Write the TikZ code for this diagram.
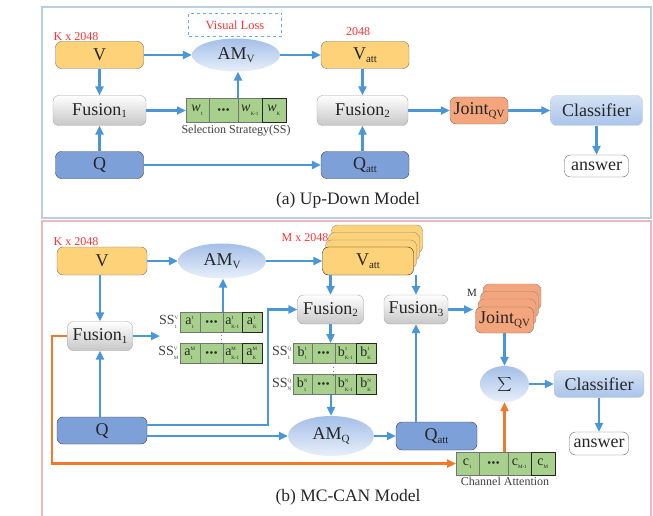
\documentclass[tikz,border=0pt]{standalone}
\usepackage{fontspec}
\setmainfont{Liberation Serif}
\usepackage{tikz}
\usetikzlibrary{arrows.meta,positioning,shapes.geometric}

\definecolor{ylw}{HTML}{FDD279}
\definecolor{qblue}{HTML}{7DA0D8}
\definecolor{arrblue}{HTML}{4B96D6}
\definecolor{jorange}{HTML}{F4A57C}
\definecolor{cgreen}{HTML}{A8D08D}
\definecolor{lossred}{HTML}{FF3333}
\definecolor{ostroke}{HTML}{F07A2A}
\definecolor{topframe}{HTML}{BBCDE2}
\definecolor{botframe}{HTML}{F2B6C0}
\definecolor{amtop}{HTML}{A4BFE8}
\definecolor{ambot}{HTML}{E8EFFA}
\definecolor{clstop}{HTML}{D5E3F5}
\definecolor{clsbot}{HTML}{A9C3EA}

\newcommand{\subtxt}[1]{\raisebox{-0.35ex}{\fontsize{11}{11}\selectfont #1}}
\newcommand{\tinytxt}[1]{\mbox{\fontsize{5}{5}\selectfont #1}}
\newcommand{\cel}[3]{#1$^{\tinytxt{#2}}_{\tinytxt{#3}}$}
\newcommand{\threedots}{{\fontsize{6}{6}\selectfont$\bullet\!\bullet\!\bullet$}}

\begin{document}
\begin{tikzpicture}[
  x=1pt, y=-1pt,
  every node/.style={inner sep=0pt, text=black!85},
  base/.style={rounded corners=6pt, minimum width=88pt, minimum height=27pt, font=\fontsize{18}{20}\selectfont},
  ylwbox/.style={base, draw=black!55, fill=ylw},
  fus/.style={base, draw=black!35, top color=white, bottom color=black!22, minimum height=30pt},
  qbox/.style={base, draw=black!75, fill=qblue},
  amv/.style={ellipse, draw=none, top color=amtop, bottom color=ambot, font=\fontsize{18}{20}\selectfont},
  joint/.style={base, draw=black!55, fill=jorange, minimum width=58pt},
  cls/.style={base, draw=black!20, top color=clstop, bottom color=clsbot, minimum width=92pt, minimum height=30pt},
  ans/.style={base, draw=black!60, fill=white, minimum width=64pt, minimum height=22pt},
  cell/.style={draw=black!55, fill=cgreen, outer sep=0pt, minimum height=20pt, font=\fontsize{14}{14}\selectfont},
  cellk/.style={cell, draw=black!85},
  sslbl/.style={font=\fontsize{14}{14}\selectfont, text=black!75},
  lbl/.style={text=lossred, font=\fontsize{12}{12}\selectfont},
  note/.style={font=\fontsize{12}{12}\selectfont, text=black!75},
  captxt/.style={font=\fontsize{17.5}{18}\selectfont},
  loss/.style={draw=arrblue!80, dashed, thick, text=lossred, minimum width=93pt, minimum height=23pt, font=\fontsize{12.5}{12.5}\selectfont},
  arr/.style={-{Triangle[length=9pt,width=8pt]}, line width=2.3pt, draw=arrblue},
  oarr/.style={arr, draw=ostroke}
]
  \useasboundingbox (0,0) rectangle (653,516);
  \draw[topframe, line width=1.2pt] (42,7) rectangle (651,218);
  \draw[botframe, line width=1.2pt] (42,516) -- (42,221) -- (651,221) -- (651,516);

  % (a) up-down model
  \node[lbl] (kx1) at (76,37) {K x 2048};
  \node[ylwbox] (v1) at (99.5,55) {V};
  \node[amv, minimum width=88pt, minimum height=33pt] (amv1) at (236,55) {AM\subtxt{V}};
  \node[loss] (loss) at (235,25) {Visual Loss};
  \node[lbl] (dim1) at (358,32) {2048};
  \node[ylwbox] (vatt1) at (365,55) {V\subtxt{att}};
  \node[fus, minimum width=93pt] (fus1a) at (99.5,110.5) {Fusion\subtxt{1}};
  \node[cell, minimum width=23pt, minimum height=24pt, anchor=west] (w1) at (186,110.5) {\cel{\textit{w}}{}{1}};
  \node[cell, minimum width=29pt, minimum height=24pt, right=0pt of w1] (w2) {\threedots};
  \node[cell, minimum width=24pt, minimum height=24pt, right=0pt of w2] (w3) {\cel{\textit{w}}{}{K-1}};
  \node[cellk, minimum width=24pt, minimum height=24pt, right=0pt of w3] (w4) {\cel{\textit{w}}{}{K}};
  \node[note] (ss) at (236,131) {Selection Strategy(SS)};
  \node[qbox] (q1) at (99.5,165) {Q};
  \node[qbox] (qatt1) at (365,165) {Q\subtxt{att}};
  \node[fus, minimum width=91pt] (fus2a) at (362.5,110.5) {Fusion\subtxt{2}};
  \node[joint] (joint1) at (479,110.5) {Joint\subtxt{QV}};
  \node[cls] (cls1) at (596.5,110.5) {Classifier};
  \node[ans] (ans1) at (596.5,166) {answer};
  \node[captxt] (capa) at (348,200) {(a) Up-Down Model};

  \draw[arr] (v1) -- (amv1);
  \draw[arr] (amv1) -- (vatt1);
  \draw[arr] (v1) -- (fus1a);
  \draw[arr] (q1) -- (fus1a);
  \draw[arr] (fus1a) -- (w1);
  \draw[arr] (w2.north east) -- (w2.north east |- amv1.south);
  \draw[arr] (q1) -- (qatt1);
  \draw[arr] (fus2a.north |- vatt1.south) -- (fus2a.north);
  \draw[arr] (fus2a.south |- qatt1.north) -- (fus2a.south);
  \draw[arr] (fus2a) -- (joint1);
  \draw[arr] (joint1) -- (cls1);
  \draw[arr] (cls1) -- (ans1);

  % (b) MC-CAN model
  \node[lbl] (kx2) at (76,242) {K x 2048};
  \node[ylwbox, minimum width=90pt, minimum height=28pt] (v2) at (102,261) {V};
  \node[amv, minimum width=88pt, minimum height=35pt] (amv2) at (222,261) {AM\subtxt{V}};
  \node[lbl] (mx2) at (305,238) {M x 2048};
  \node[ylwbox, minimum width=91pt, minimum height=28pt, draw=black!45] (vattc) at (377,239) {};
  \node[ylwbox, minimum width=91pt, minimum height=28pt, draw=black!45] (vattb) at (374,246.5) {};
  \node[ylwbox, minimum width=91pt, minimum height=28pt, draw=black!45] (vatta) at (371,254) {};
  \node[ylwbox, minimum width=91pt, minimum height=28pt, draw=black!85] (vatt2) at (368,261) {V\subtxt{att}};
  \node[fus, minimum width=65pt, minimum height=29pt] (fus1b) at (100,336) {Fusion\subtxt{1}};
  \node[cell, minimum width=20pt, anchor=west] (a11) at (180,322) {\cel{a}{1}{1}};
  \node[cell, minimum width=23pt, right=0pt of a11] (a12) {\threedots};
  \node[cell, minimum width=19pt, right=0pt of a12] (a13) {\cel{a}{1}{K-1}};
  \node[cellk, minimum width=20pt, right=0pt of a13] (a14) {\cel{a}{1}{K}};
  \node[cell, minimum width=20pt, anchor=west] (am1) at (180,353) {\cel{a}{M}{1}};
  \node[cell, minimum width=23pt, right=0pt of am1] (am2) {\threedots};
  \node[cell, minimum width=19pt, right=0pt of am2] (am3) {\cel{a}{M}{K-1}};
  \node[cellk, minimum width=20pt, right=0pt of am3] (am4) {\cel{a}{M}{K}};
  \node[sslbl, left=1pt of a11] (ssv1) {\cel{SS}{V}{1}};
  \node[sslbl, left=1pt of am1] (ssvm) {\cel{SS}{V}{M}};
  \node[font=\fontsize{8}{8}\selectfont] (vda) at (221.5,337.5) {$\vdots$};
  \node[fus, minimum width=66pt, minimum height=29pt] (fus2b) at (330.5,309.5) {Fusion\subtxt{2}};
  \node[fus, minimum width=64pt, minimum height=29pt] (fus3b) at (416,309.5) {Fusion\subtxt{3}};
  \node[joint, minimum height=26pt, draw=black!45] (jointc) at (512,297) {};
  \node[joint, minimum height=26pt, draw=black!45] (jointb) at (509.5,304.5) {};
  \node[joint, minimum height=26pt, draw=black!45] (jointa) at (507,312) {};
  \node[joint, minimum height=26pt] (joint2) at (504.5,320) {Joint\subtxt{QV}};
  \node[font=\fontsize{11}{11}\selectfont] (mlbl) at (472,293) {M};
  \node[cell, minimum width=19pt, anchor=west] (b11) at (293,353) {\cel{b}{1}{1}};
  \node[cell, minimum width=23pt, right=0pt of b11] (b12) {\threedots};
  \node[cell, minimum width=21pt, right=0pt of b12] (b13) {\cel{b}{1}{K-1}};
  \node[cellk, minimum width=20pt, right=0pt of b13] (b14) {\cel{b}{1}{K}};
  \node[cell, minimum width=19pt, anchor=west] (bn1) at (293,384.5) {\cel{b}{N}{1}};
  \node[cell, minimum width=23pt, right=0pt of bn1] (bn2) {\threedots};
  \node[cell, minimum width=21pt, right=0pt of bn2] (bn3) {\cel{b}{N}{K-1}};
  \node[cellk, minimum width=20pt, right=0pt of bn3] (bn4) {\cel{b}{N}{K}};
  \node[sslbl, left=1pt of b11] (ssq1) {\cel{SS}{Q}{1}};
  \node[sslbl, left=1pt of bn1] (ssqn) {\cel{SS}{Q}{N}};
  \node[font=\fontsize{8}{8}\selectfont] (vdb) at (333.5,369) {$\vdots$};
  \node[qbox, minimum width=90pt] (q2) at (102,430.5) {Q};
  \node[amv, minimum width=86pt, minimum height=40pt] (amq) at (331,436) {AM\subtxt{Q}};
  \node[qbox, minimum width=81pt, minimum height=28pt] (qatt2) at (436.5,436) {Q\subtxt{att}};
  \node[amv, minimum width=49pt, minimum height=36pt] (sigma) at (504.5,384) {\fontsize{16}{16}\selectfont$\displaystyle\sum$};
  \node[cls, minimum width=90pt, minimum height=27pt] (cls2) at (599,384) {Classifier};
  \node[ans, minimum width=59pt, minimum height=23pt] (ans2) at (599,443.5) {answer};
  \node[cell, minimum width=23pt, minimum height=23pt, anchor=west] (c1) at (456,463.5) {\cel{c}{}{1}};
  \node[cell, minimum width=29pt, minimum height=23pt, right=0pt of c1] (c2) {\threedots};
  \node[cell, minimum width=23pt, minimum height=23pt, right=0pt of c2] (c3) {\cel{c}{}{M-1}};
  \node[cellk, minimum width=24pt, minimum height=23pt, right=0pt of c3] (c4) {\cel{c}{}{M}};
  \node[note] (chan) at (505,481) {Channel Attention};
  \node[captxt] (capb) at (348,497) {(b) MC-CAN Model};
  \coordinate (ssin) at (160,336);
  \coordinate (qbend) at (268,425);
  \coordinate (jin) at (473,309.5);
  \coordinate (obend) at (52,336);

  \draw[arr] (v2) -- (amv2);
  \draw[arr] (amv2) -- (vatt2);
  \draw[arr] (fus1b.north |- v2.south) -- (fus1b.north);
  \draw[arr] (fus1b.south |- q2.north) -- (fus1b.south);
  \draw[arr] (fus1b) -- (ssin);
  \draw[arr] (a12.north east) -- (a12.north east |- amv2.south);
  \draw[arr] ([yshift=5.5pt]q2.east) -- (qbend) |- (fus2b.west);
  \draw[arr] ([yshift=-5.5pt]q2.east) -- (amq.west);
  \draw[arr] (fus2b.north |- vatt2.south) -- (fus2b.north);
  \draw[arr] (fus3b.north |- vatt2.south) -- (fus3b.north);
  \draw[arr] (fus2b.south) -- (fus2b.south |- b11.north);
  \draw[arr] (amq.north |- bn1.south) -- (amq.north);
  \draw[arr] (amq) -- (qatt2);
  \draw[arr] (fus3b.south |- qatt2.north) -- (fus3b.south);
  \draw[arr] (fus3b) -- (jin);
  \draw[arr] (joint2) -- (sigma);
  \draw[arr] (sigma) -- (cls2);
  \draw[arr] (cls2) -- (ans2);
  \draw[oarr] (fus1b.west) -- (obend) |- (c1.west);
  \draw[oarr] (sigma.south |- c2.north) -- (sigma.south);
\end{tikzpicture}
\end{document}
